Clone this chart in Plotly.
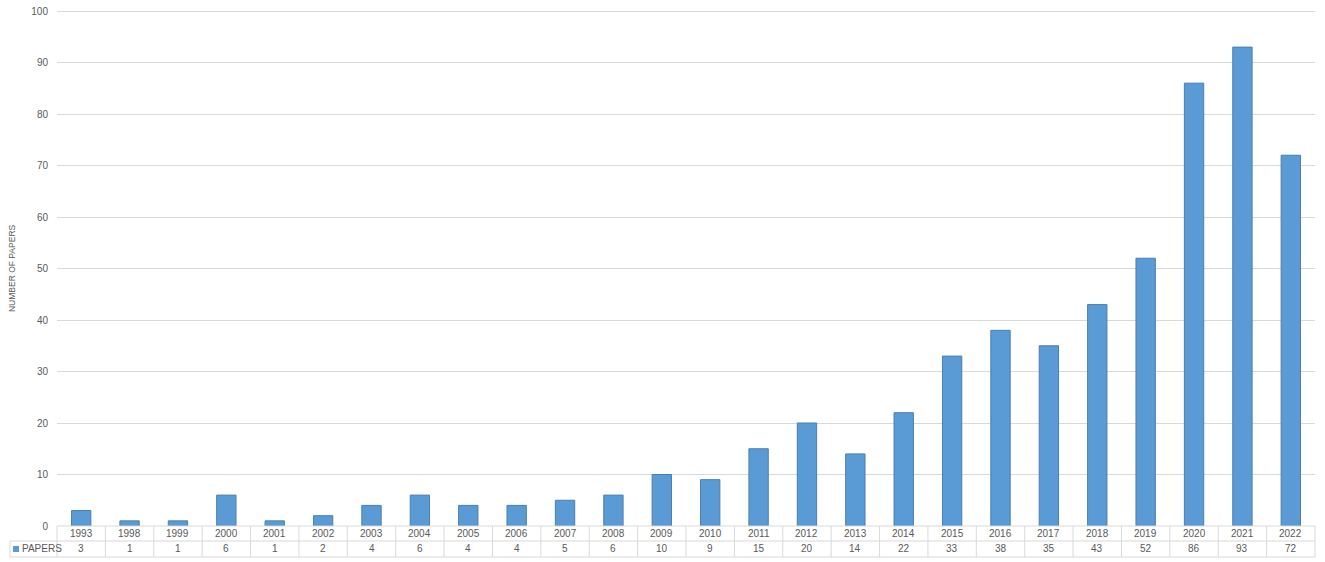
import plotly.graph_objects as go

years = ["1993", "1998", "1999", "2000", "2001", "2002", "2003", "2004", "2005", "2006",
         "2007", "2008", "2009", "2010", "2011", "2012", "2013", "2014", "2015", "2016",
         "2017", "2018", "2019", "2020", "2021", "2022"]
papers = [3, 1, 1, 6, 1, 2, 4, 6, 4, 4, 5, 6, 10, 9, 15, 20, 14, 22, 33, 38, 35, 43, 52, 86, 93, 72]
series_name = "PAPERS"
y_title = "NUMBER OF PAPERS"
y_ticks = [0, 10, 20, 30, 40, 50, 60, 70, 80, 90, 100]

# the page body margin is removed by a post script, so the figure fills the window
OFF = 0
W, H = 1325 - OFF, 562 - OFF
# plot area in window pixels
X0, X1 = 57, 1315
Y_ZERO, Y_HUNDRED = 526, 11
YMAX = 100.4
pxu = (Y_ZERO - Y_HUNDRED) / 100.0
Y_TOP = Y_ZERO - YMAX * pxu

ML = X0 - OFF
MR = 1325 - X1
MT = Y_TOP - OFF
MB = H - (Y_ZERO - OFF)
PW = W - ML - MR
PH = H - MT - MB
n = len(years)

BAR = "#5B9BD5"
EDGE = "#4A7EB0"
GRID = "#D9D9D9"
TXT = "#595959"
FONT = "Liberation Sans, Arial, sans-serif"

fig = go.Figure()
fig.add_trace(go.Bar(x=list(range(n)), y=papers, name=series_name,
                     marker=dict(color=BAR, line=dict(color=EDGE, width=1))))

def px_x(px):
    return (px - OFF - ML) / PW

def px_y(py):
    return (H - MB - (py - OFF)) / PH

shapes = []
annotations = []
row1_top, row1_bot, row2_bot = 526, 541, 557
left_cell = 10
line = dict(color=GRID, width=1)
shapes.append(dict(type="line", xref="paper", yref="paper", x0=0, x1=1,
                   y0=px_y(row1_top), y1=px_y(row1_top), line=line))
for yy in (row1_bot, row2_bot):
    shapes.append(dict(type="line", xref="paper", yref="paper", x0=px_x(left_cell), x1=1,
                       y0=px_y(yy), y1=px_y(yy), line=line))
shapes.append(dict(type="line", xref="paper", yref="paper", x0=px_x(left_cell), x1=px_x(left_cell),
                   y0=px_y(row1_bot), y1=px_y(row2_bot), line=line))
for i in range(n + 1):
    xx = i / n
    shapes.append(dict(type="line", xref="paper", yref="paper", x0=xx, x1=xx,
                       y0=px_y(row1_top), y1=px_y(row2_bot), line=line))

for i, (yr, v) in enumerate(zip(years, papers)):
    xc = (i + 0.5) / n
    annotations.append(dict(xref="paper", yref="paper", x=xc, y=px_y((row1_top + row1_bot) / 2),
                            text=yr, showarrow=False, xanchor="center", yanchor="middle",
                            font=dict(size=10, color=TXT, family=FONT)))
    annotations.append(dict(xref="paper", yref="paper", x=xc, y=px_y((row1_bot + row2_bot) / 2),
                            text=str(v), showarrow=False, xanchor="center", yanchor="middle",
                            font=dict(size=10, color=TXT, family=FONT)))

shapes.append(dict(type="rect", xref="paper", yref="paper", x0=px_x(13), x1=px_x(19),
                   y0=px_y(552), y1=px_y(546), fillcolor=BAR, line=dict(width=0)))
annotations.append(dict(xref="paper", yref="paper", x=px_x(20), y=px_y((row1_bot + row2_bot) / 2),
                        text=series_name, showarrow=False, xanchor="left", yanchor="middle",
                        font=dict(size=10, color=TXT, family=FONT)))
annotations.append(dict(xref="paper", yref="paper", x=px_x(12), y=px_y(268), text=y_title,
                        textangle=-90, showarrow=False, xanchor="center", yanchor="middle",
                        font=dict(size=8.5, color=TXT, family=FONT)))

fig.update_layout(
    width=W, height=H,
    margin=dict(l=ML, r=MR, t=MT, b=MB, pad=0, autoexpand=False),
    paper_bgcolor="white", plot_bgcolor="white",
    showlegend=False,
    bargap=0.6,
    shapes=shapes, annotations=annotations,
    xaxis=dict(range=[-0.5, n - 0.5], showticklabels=False, showgrid=False, zeroline=False,
               showline=False, ticks=""),
    yaxis=dict(range=[0, YMAX], tickvals=y_ticks, showgrid=True, gridcolor=GRID, gridwidth=1,
               zeroline=False, showline=False, ticks="", ticklabelstandoff=8,
               ticklabeloverflow="allow",
               tickfont=dict(size=10, color=TXT, family=FONT)),
)

fig.write_html("out.html", config={"displayModeBar": False},
               post_script="document.body.style.margin='0px';document.body.style.overflow='hidden';")
